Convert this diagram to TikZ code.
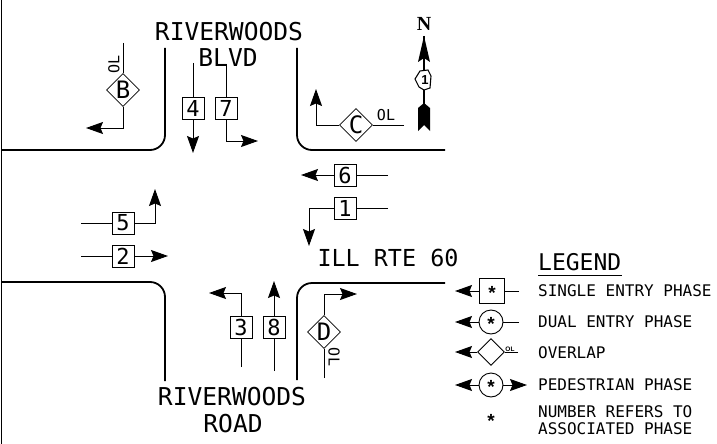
\documentclass[tikz,border=0pt]{standalone}
\usepackage{fontspec}
\setmainfont{DejaVu Sans Mono}
\newfontfamily\serf{Liberation Serif}
\newfontfamily\sanf{Liberation Sans}
\usetikzlibrary{arrows.meta,shapes.geometric}
\tikzset{
  x=1pt,y=-1pt,
  road/.style={line width=1.8pt,rounded corners=15pt},
  wire/.style={line width=1pt},
  arr/.style={wire,-{Stealth[length=17pt,width=12pt,inset=2.5pt]}},
  pbox/.style={draw,line width=0.8pt,fill=white,minimum size=22pt,inner sep=0pt,font=\fontsize{22}{22}\selectfont},
  pdia/.style={draw,diamond,line width=0.8pt,fill=white,minimum size=33pt,inner sep=0pt,font=\fontsize{24}{24}\selectfont},
  lbox/.style={draw,line width=0.9pt,fill=white,minimum size=25pt,inner sep=0pt},
  lcirc/.style={draw,circle,line width=0.9pt,fill=white,minimum size=24pt,inner sep=0pt},
  ldia/.style={draw,diamond,line width=0.9pt,fill=white,minimum size=27pt,inner sep=0pt},
  big/.style={font=\fontsize{24.6}{24.6}\selectfont,inner sep=0pt},
  leg/.style={font=\fontsize{16}{16}\selectfont,anchor=west,inner sep=0pt},
  ol/.style={font=\fontsize{15}{15}\selectfont,inner sep=0pt},
  dot/.style={font=\sanf\fontsize{19}{19}\selectfont\bfseries,inner sep=0pt,yshift=-2pt}
}
\begin{document}
\begin{tikzpicture}
\useasboundingbox (0,0) rectangle (717,444);
\draw[line width=1pt] (1,0) -- (1,444);
% roads
\coordinate (a1) at (2,150); \coordinate (a2) at (165,150); \coordinate (a3) at (165,48);
\coordinate (b1) at (297,48); \coordinate (b2) at (297,150); \coordinate (b3) at (445,150);
\coordinate (c1) at (2,282); \coordinate (c2) at (165,282); \coordinate (c3) at (165,381);
\coordinate (d1) at (297,380); \coordinate (d2) at (297,283); \coordinate (d3) at (445,283);
\draw[road] (a1) -- (a2) -- (a3);
\draw[road] (b1) -- (b2) -- (b3);
\draw[road] (c1) -- (c2) -- (c3);
\draw[road] (d1) -- (d2) -- (d3);
% street names
\node[big] (n1) at (229,32) {RIVERWOODS};
\node[big] (n2) at (228,58) {BLVD};
\node[big] (n3) at (232,397) {RIVERWOODS};
\node[big] (n4) at (233,424) {ROAD};
\node[big,font=\fontsize{23.4}{23.4}\selectfont] (n5) at (388,258) {ILL RTE 60};
% phase nodes
\node[pbox] (p4) at (193,108) {4};
\node[pbox] (p7) at (226,108) {7};
\node[pbox] (p6) at (345,175) {6};
\node[pbox] (p1) at (345,208) {1};
\node[pbox] (p5) at (123,223) {5};
\node[pbox] (p2) at (123,256) {2};
\node[pbox] (p3) at (241,327) {3};
\node[pbox] (p8) at (274,327) {8};
\node[pdia] (oB) at (123,90) {B};
\node[pdia] (oC) at (356,125) {C};
\node[pdia] (oD) at (324,332) {D};
\node[ol,rotate=90] (lB) at (114,64) {OL};
\node[ol] (lC) at (386,115) {OL};
\node[ol,rotate=-90] (lD) at (334,357) {OL};
% connectors
\coordinate (t4a) at (193,63); \coordinate (t4b) at (193,153);
\draw[wire] (t4a) -- (p4.north); \draw[arr] (p4.south) -- (t4b);
\coordinate (t7a) at (217,65); \coordinate (t7b) at (226,65); \coordinate (t7c) at (226,141); \coordinate (t7d) at (258,141);
\draw[wire] (t7a) -- (t7b) -- (p7.north); \draw[arr] (p7.south) -- (t7c) -- (t7d);
\coordinate (tBa) at (123,43); \coordinate (tBb) at (123,128); \coordinate (tBc) at (86,128);
\draw[wire] (tBa) -- (oB.north); \draw[arr] (oB.south) -- (tBb) -- (tBc);
\coordinate (tCa) at (404,125); \coordinate (tCb) at (316,125); \coordinate (tCc) at (316,89);
\draw[wire] (tCa) -- (oC.east); \draw[arr] (oC.west) -- (tCb) -- (tCc);
\coordinate (t6a) at (388,175); \coordinate (t6b) at (301,175);
\draw[wire] (t6a) -- (p6.east); \draw[arr] (p6.west) -- (t6b);
\coordinate (t1a) at (388,208); \coordinate (t1b) at (309,208); \coordinate (t1c) at (309,246);
\draw[wire] (t1a) -- (p1.east); \draw[arr] (p1.west) -- (t1b) -- (t1c);
\coordinate (t5a) at (81,223); \coordinate (t5b) at (155,223); \coordinate (t5c) at (155,189);
\draw[wire] (t5a) -- (p5.west); \draw[arr] (p5.east) -- (t5b) -- (t5c);
\coordinate (t2a) at (81,256); \coordinate (t2b) at (168,256);
\draw[wire] (t2a) -- (p2.west); \draw[arr] (p2.east) -- (t2b);
\coordinate (t3a) at (241,367); \coordinate (t3b) at (241,293); \coordinate (t3c) at (209,293);
\draw[wire] (t3a) -- (p3.south); \draw[arr] (p3.north) -- (t3b) -- (t3c);
\coordinate (t8a) at (274,371); \coordinate (t8b) at (274,281);
\draw[wire] (t8a) -- (p8.south); \draw[arr] (p8.north) -- (t8b);
\coordinate (tDa) at (324,378); \coordinate (tDb) at (324,294); \coordinate (tDc) at (357,294);
\draw[wire] (tDa) -- (oD.south); \draw[arr] (oD.north) -- (tDb) -- (tDc);
% north arrow
\node[font=\serf\bfseries\fontsize{20}{20}\selectfont,inner sep=0pt] (north) at (424,24) {N};
\coordinate (nTip) at (424,36); \coordinate (nTail) at (424,105);
\draw[line width=1.2pt] (nTail) -- (nTip);
\fill (nTip) -- (430,62) -- (424,58) -- (418,62) -- cycle;
\fill (418,108) -- (424,103) -- (430,108) -- (430,131) -- (424,125) -- (418,131) -- cycle;
\draw[line width=1.1pt,fill=white] (420,71) -- (428,70) -- (431,76) -- (430,88) -- (424,90) -- (419,87) -- (415,79) -- cycle;
\node[font=\sanf\bfseries\fontsize{13}{13}\selectfont,inner sep=0pt] (one) at (425,80) {1};
% legend
\node[font=\fontsize{23}{23}\selectfont,anchor=west,inner sep=0pt] (lt) at (538,262) {LEGEND};
\coordinate (ul1) at (538,275); \coordinate (ul2) at (622,275);
\draw[line width=0.8pt] (ul1) -- (ul2);
\node[lbox] (L1) at (492,291) {}; \node[dot] at (L1) {*};
\node[lcirc] (L2) at (491,322) {}; \node[dot] at (L2) {*};
\node[ldia] (L3) at (491,352) {};
\node[lcirc] (L4) at (491,385) {}; \node[dot] at (L4) {*};
\node[dot] (L5) at (491,419) {*};
\node[font=\sanf\bfseries\fontsize{6.5}{6.5}\selectfont,inner sep=0pt] (ol3) at (510,349) {OL};
\coordinate (e1a) at (519,291); \coordinate (e1b) at (455,291);
\draw[wire] (e1a) -- (L1.east); \draw[arr] (L1.west) -- (e1b);
\coordinate (e2a) at (519,322); \coordinate (e2b) at (455,322);
\draw[wire] (e2a) -- (L2.east); \draw[arr] (L2.west) -- (e2b);
\coordinate (e3a) at (518,352); \coordinate (e3b) at (455,352);
\draw[wire] (e3a) -- (L3.east); \draw[arr] (L3.west) -- (e3b);
\coordinate (e4a) at (527,385); \coordinate (e4b) at (455,385);
\draw[arr] (L4.east) -- (e4a); \draw[arr] (L4.west) -- (e4b);
\node[leg] (s1) at (538,291) {SINGLE ENTRY PHASE};
\node[leg] (s2) at (538,322) {DUAL ENTRY PHASE};
\node[leg] (s3) at (538,353) {OVERLAP};
\node[leg] (s4) at (538,385) {PEDESTRIAN PHASE};
\node[leg] (s5) at (538,412) {NUMBER REFERS TO};
\node[leg] (s6) at (538,429) {ASSOCIATED PHASE};
\end{tikzpicture}
\end{document}
